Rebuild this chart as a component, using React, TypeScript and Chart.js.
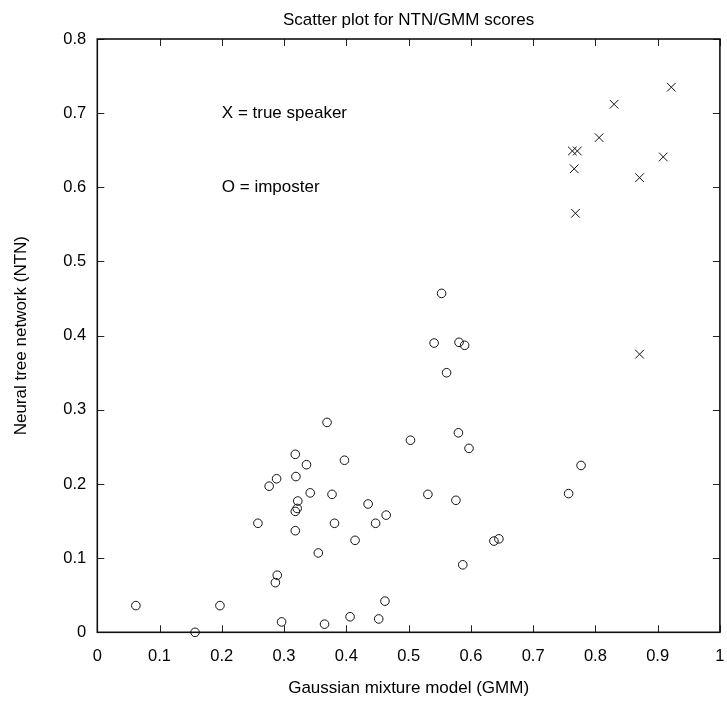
import React, { useEffect, useRef } from "react";
import { Chart, registerables } from "chart.js";

Chart.register(...registerables);

// Imposter scores (O)
const imposterGMM = [
  0.553, 0.541, 0.581, 0.59, 0.561, 0.369, 0.58, 0.503, 0.597, 0.318,
  0.336, 0.397, 0.319, 0.288, 0.276, 0.342, 0.377, 0.531, 0.576, 0.322,
  0.435, 0.321, 0.318, 0.258, 0.381, 0.447, 0.464, 0.318, 0.414, 0.637,
  0.645, 0.355, 0.587, 0.289, 0.286, 0.462, 0.296, 0.365, 0.406, 0.452,
  0.062, 0.157, 0.197, 0.777, 0.757,
];
const imposterNTN = [
  0.457, 0.39, 0.391, 0.387, 0.35, 0.283, 0.269, 0.259, 0.248, 0.24,
  0.226, 0.232, 0.21, 0.207, 0.197, 0.188, 0.186, 0.186, 0.178, 0.177,
  0.173, 0.167, 0.163, 0.147, 0.147, 0.147, 0.158, 0.137, 0.124, 0.123,
  0.126, 0.107, 0.091, 0.077, 0.067, 0.042, 0.014, 0.011, 0.021, 0.018,
  0.036, 0.0, 0.036, 0.225, 0.187,
];

// True speaker scores (X)
const speakerGMM = [0.922, 0.83, 0.806, 0.763, 0.771, 0.766, 0.909, 0.871, 0.768, 0.871];
const speakerNTN = [0.735, 0.712, 0.667, 0.649, 0.649, 0.625, 0.641, 0.613, 0.565, 0.375];

const xTicks = [0, 0.1, 0.2, 0.3, 0.4, 0.5, 0.6, 0.7, 0.8, 0.9, 1];
const yTicks = [0, 0.1, 0.2, 0.3, 0.4, 0.5, 0.6, 0.7, 0.8];

const noteX = [0.2, 0.2];
const noteY = [0.7, 0.6];
const noteText = ["X = true speaker", "O = imposter"];

const chartTitle = "Scatter plot for NTN/GMM scores";
const xTitle = "Gaussian mixture model (GMM)";
const yTitle = "Neural tree network (NTN)";

const FAMILY = '"Liberation Sans", Arial, Helvetica, sans-serif';

const framePlugin = {
  id: "frameTicksNotes",
  beforeDatasetsDraw(chart: any) {
    const { ctx, chartArea: a, scales } = chart;
    const xs = scales.x;
    const ys = scales.y;
    const tl = 7;
    ctx.save();
    ctx.strokeStyle = "#222";
    ctx.lineWidth = 1;
    ctx.beginPath();
    for (const v of xTicks) {
      const px = Math.round(xs.getPixelForValue(v)) + 0.5;
      ctx.moveTo(px, a.bottom);
      ctx.lineTo(px, a.bottom - tl);
      ctx.moveTo(px, a.top);
      ctx.lineTo(px, a.top + tl);
    }
    for (const v of yTicks) {
      const py = Math.round(ys.getPixelForValue(v)) + 0.5;
      ctx.moveTo(a.left, py);
      ctx.lineTo(a.left + tl, py);
      ctx.moveTo(a.right, py);
      ctx.lineTo(a.right - tl, py);
    }
    ctx.stroke();
    ctx.strokeStyle = "#111";
    ctx.lineWidth = 1.6;
    ctx.strokeRect(a.left, a.top, a.right - a.left, a.bottom - a.top);
    ctx.restore();
  },
  afterDraw(chart: any) {
    const { ctx, scales } = chart;
    const xs = scales.x;
    const ys = scales.y;
    ctx.save();
    ctx.fillStyle = "#000";
    ctx.font = `17px ${FAMILY}`;
    ctx.textAlign = "left";
    ctx.textBaseline = "middle";
    noteText.forEach((t, i) => {
      ctx.fillText(t, xs.getPixelForValue(noteX[i]), ys.getPixelForValue(noteY[i]));
    });
    ctx.restore();
  },
};

const fmt = (v: any) => String(Number(Number(v).toFixed(1)));

export default function App() {
  const ref = useRef<HTMLCanvasElement | null>(null);

  useEffect(() => {
    if (!ref.current) return;
    const chart = new Chart(ref.current, {
      type: "scatter",
      data: {
        datasets: [
          {
            label: "imposter",
            data: imposterGMM.map((x, i) => ({ x, y: imposterNTN[i] })),
            pointStyle: "circle",
            pointRadius: 4.3,
            pointHoverRadius: 4.3,
            borderColor: "#111",
            backgroundColor: "rgba(0,0,0,0)",
            pointBorderWidth: 1,
            clip: false,
          },
          {
            label: "true speaker",
            data: speakerGMM.map((x, i) => ({ x, y: speakerNTN[i] })),
            pointStyle: "crossRot",
            pointRadius: 6.1,
            pointHoverRadius: 6.1,
            borderColor: "#111",
            backgroundColor: "rgba(0,0,0,0)",
            pointBorderWidth: 1,
            clip: false,
          },
        ],
      },
      options: {
        responsive: false,
        animation: false,
        events: [],
        layout: { padding: { left: 0, right: 2.3, top: 0, bottom: 0 } },
        plugins: {
          legend: { display: false },
          tooltip: { enabled: false },
          title: {
            display: true,
            fullSize: false,
            text: chartTitle,
            color: "#000",
            font: { family: FAMILY, size: 17, weight: "normal" },
            padding: { top: 10, bottom: 8.6 },
          },
        },
        scales: {
          x: {
            type: "linear",
            min: 0,
            max: 1,
            afterBuildTicks: (s: any) => {
              s.ticks = xTicks.map((v) => ({ value: v }));
            },
            ticks: {
              callback: fmt,
              color: "#000",
              font: { family: FAMILY, size: 16.5 },
              padding: 14,
              maxRotation: 0,
              autoSkip: false,
            },
            grid: { display: false, drawTicks: false },
            border: { display: false },
            title: {
              display: true,
              text: xTitle,
              color: "#000",
              font: { family: FAMILY, size: 17 },
              padding: { top: 0, bottom: 5.8 },
            },
            afterFit: (s: any) => {
              s.height = 71.7;
              s.paddingLeft = 0;
              s.paddingRight = 0;
            },
          },
          y: {
            type: "linear",
            min: 0,
            max: 0.8,
            afterBuildTicks: (s: any) => {
              s.ticks = yTicks.map((v) => ({ value: v }));
            },
            ticks: {
              callback: fmt,
              color: "#000",
              font: { family: FAMILY, size: 16.5 },
              padding: 11,
              autoSkip: false,
            },
            grid: { display: false, drawTicks: false },
            border: { display: false },
            title: {
              display: true,
              text: yTitle,
              color: "#000",
              font: { family: FAMILY, size: 17 },
              padding: { top: 11, bottom: 0 },
            },
            afterFit: (s: any) => {
              s.width = 97.3;
              s.paddingTop = 0;
              s.paddingBottom = 0;
            },
          },
        },
      },
      plugins: [framePlugin],
    });
    return () => chart.destroy();
  }, []);

  return (
    <div style={{ position: "absolute", left: 0, top: 0, width: 727, height: 704, background: "#fff" }}>
      <canvas ref={ref} width={727} height={704} style={{ display: "block", width: 727, height: 704 }} />
    </div>
  );
}
